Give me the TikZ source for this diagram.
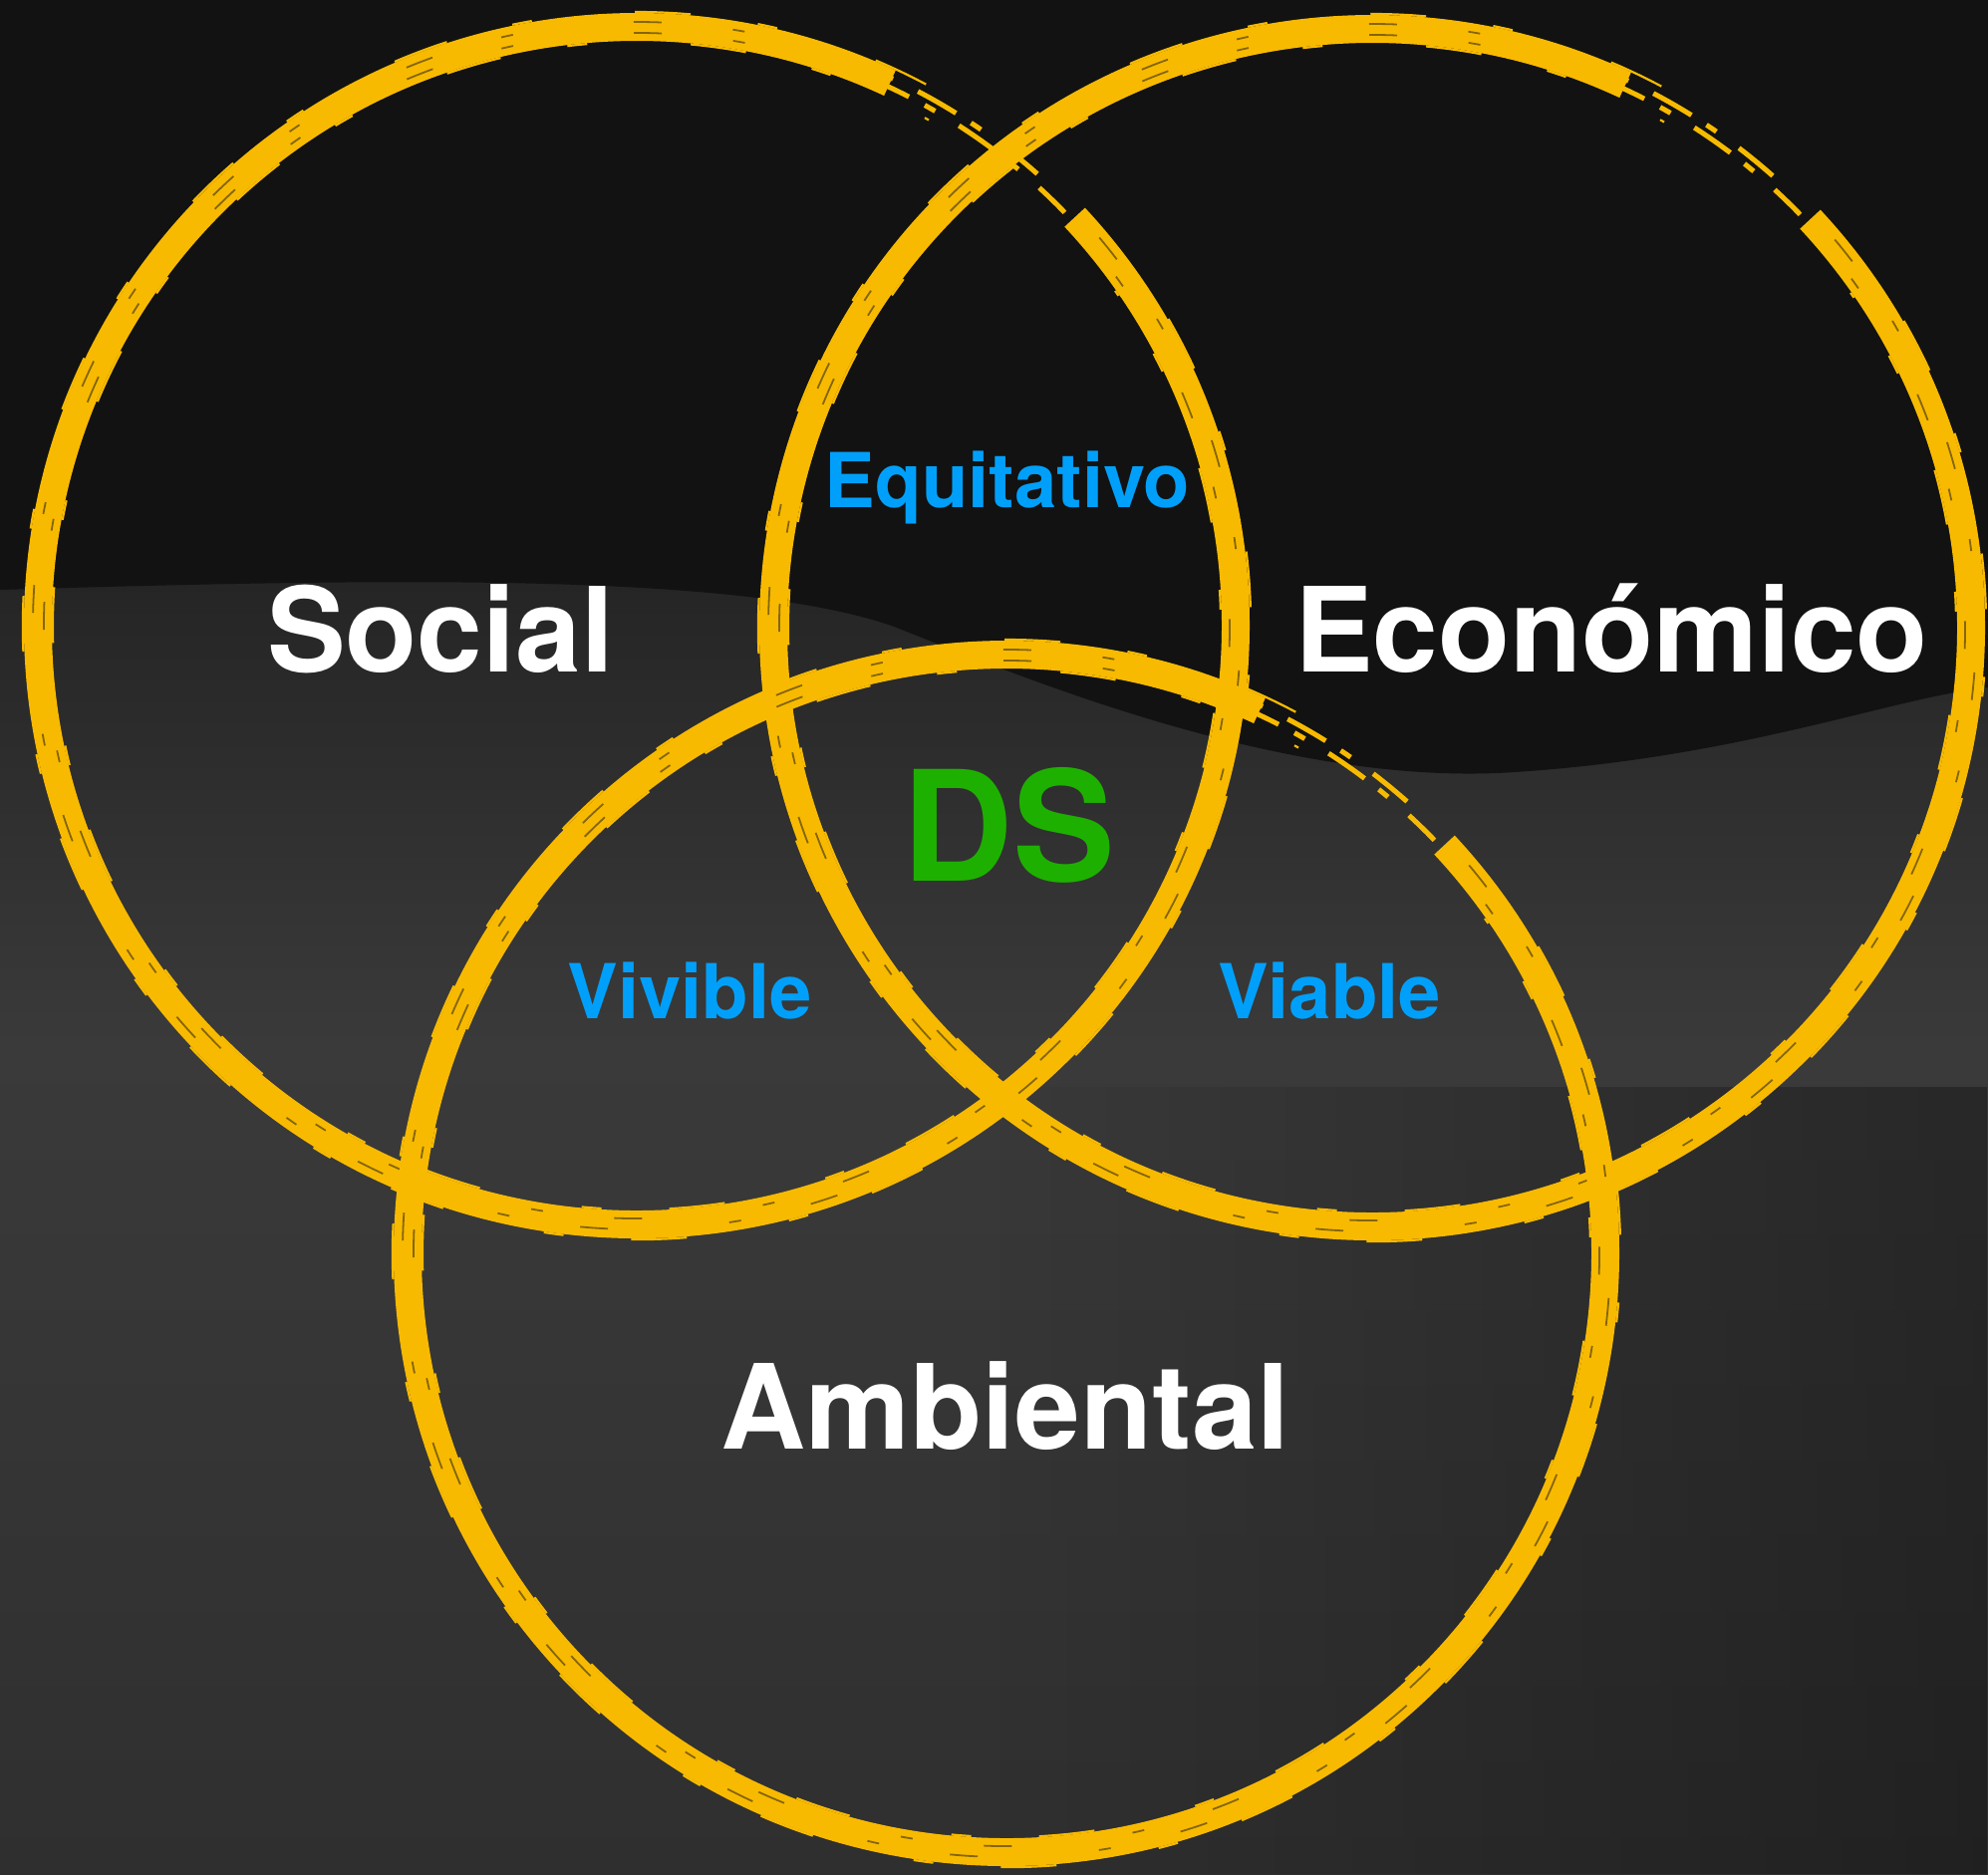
\documentclass[tikz,border=0pt]{standalone}
\usepackage{fontspec}
\setmainfont{TeX Gyre Heros}
\usetikzlibrary{fadings}
\definecolor{brushgold}{RGB}{248,186,0}
\definecolor{bgtop}{RGB}{18,18,18}
\definecolor{bghi}{RGB}{36,36,36}
\definecolor{bgmid}{RGB}{58,58,58}
\definecolor{bglow}{RGB}{47,47,47}
\definecolor{dsgreen}{RGB}{30,176,0}
\definecolor{lensblue}{RGB}{0,160,250}
\tikzfading[name=fade in right,left color=transparent!100,right color=transparent!0]
\tikzset{
	ring/.style={draw=brushgold,line width=14pt},
	tail/.style={draw=brushgold,line width=2.5pt,dash pattern=on 22pt off 9pt on 6pt off 14pt},
	bristle/.style={draw=brushgold,line width=1.1pt,dash pattern=on 28pt off 34pt on 10pt off 52pt},
	scratch/.style={draw=bgtop,opacity=0.5,line width=0.9pt,dash pattern=on 14pt off 36pt on 6pt off 61pt},
	big/.style={text=white,font=\bfseries\fontsize{59}{70}\selectfont,anchor=base},
	lens/.style={text=lensblue,font=\bfseries\fontsize{38}{46}\selectfont,anchor=base}
}
% one brush circle round a centre: thick stroke, thin tail, bristles
\newcommand{\brushring}[1]{%
	\draw[ring] (#1) ++(-43:601) arc[start angle=-43,end angle=295,radius=601];
	\draw[tail] (#1) ++(293:597) arc[start angle=293,end angle=316,radius=597];
	\draw[tail,dash phase=10pt] (#1) ++(290:606) arc[start angle=290,end angle=312,radius=606];
	\draw[scratch] (#1) ++(-40:606) arc[start angle=-40,end angle=290,radius=606];
	\draw[scratch,dash phase=40pt] (#1) ++(-38:595) arc[start angle=-38,end angle=288,radius=595];
	\draw[bristle] (#1) ++(-30:616) arc[start angle=-30,end angle=300,radius=616];
	\draw[bristle,dash phase=25pt] (#1) ++(-35:586) arc[start angle=-35,end angle=300,radius=586];
}

\begin{document}
\begin{tikzpicture}[x=0.5pt,y=-0.5pt]
	\useasboundingbox (0,0) rectangle (1995,1881);
	% background
	\shade[top color=bghi,bottom color=bgmid] (0,560) rectangle (1995,1050);
	\shade[top color=bgmid,bottom color=bglow] (0,1050) rectangle (1995,1881);
	\fill[black,opacity=0.3,path fading=fade in right] (1000,1090) rectangle (1995,1881);
	\fill[bgtop] (0,0) -- (1995,0) -- (1995,690) .. controls (1900,700) and (1750,760) .. (1520,775)
		.. controls (1300,790) and (1050,690) .. (900,630) .. controls (750,575) and (400,580) .. (0,592) -- cycle;

	\coordinate (csoc) at (639,628);
	\coordinate (ceco) at (1377,630);
	\coordinate (camb) at (1010,1258);
	\brushring{csoc}
	\brushring{ceco}
	\brushring{camb}

	\node[big] (social) at (442,674) {Social};
	\node[big] (econ) at (1617,674) {Económico};
	\node[big] (amb) at (1009,1454) {Ambiental};
	\node[text=dsgreen,font=\bfseries\fontsize{77}{90}\selectfont,anchor=base] (ds) at (1012,884) {DS};
	\node[lens] (equi) at (1011,509) {Equitativo};
	\node[lens] (viv) at (692,1022) {Vivible};
	\node[lens] (via) at (1334,1022) {Viable};
\end{tikzpicture}
\end{document}
